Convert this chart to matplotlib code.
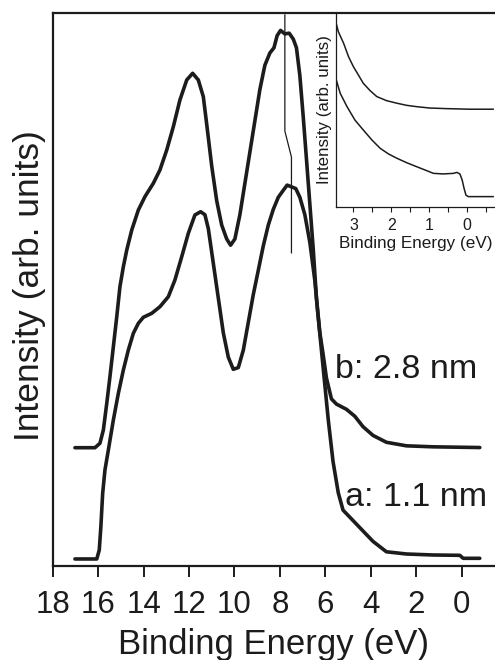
import matplotlib
matplotlib.use("Agg")
import matplotlib.pyplot as plt

plt.rcParams['font.family'] = ['Liberation Sans', 'DejaVu Sans']

# ---- main spectra (binding energy eV, intensity arb. units) ----
a_energy = [17.02, 16.06, 15.95, 15.88, 15.80, 15.70, 15.55, 15.33, 15.11, 14.89,
            14.67, 14.45, 14.23, 14.01, 13.64, 13.28, 12.91, 12.62, 12.32, 12.03,
            11.74, 11.49, 11.30, 11.15, 10.93, 10.71, 10.49, 10.27, 10.05, 9.83,
            9.61, 9.39, 9.17, 8.95, 8.73, 8.51, 8.29, 8.07, 7.85, 7.68,
            7.49, 7.30, 7.12, 6.90, 6.68, 6.46, 6.32, 6.17, 6.02, 5.87,
            5.66, 5.43, 5.22, 4.78, 4.34, 3.90, 3.31, 2.43, 1.26, 0.08,
            -0.07, -0.80]
a_intensity = [1.27, 1.27, 2.89, 7.10, 13.14, 17.35, 20.97, 26.39, 31.21, 35.42,
               39.04, 42.06, 43.86, 44.95, 45.67, 46.86, 48.67, 51.69, 55.90, 60.13,
               63.44, 64.03, 63.49, 60.98, 54.71, 48.42, 42.15, 37.74, 35.55, 35.86,
               39.00, 44.03, 49.05, 53.44, 57.85, 61.61, 64.45, 66.64, 67.90, 68.84,
               68.53, 68.21, 66.64, 63.49, 58.47, 51.56, 45.27, 39.00, 32.71, 26.44,
               18.89, 13.25, 10.10, 8.22, 6.33, 4.45, 2.57, 2.17, 1.99, 1.93,
               1.39, 1.39]

b_energy = [17.02, 16.14, 15.92, 15.77, 15.62, 15.48, 15.33, 15.18, 15.04, 14.89,
            14.74, 14.52, 14.23, 13.94, 13.57, 13.28, 12.98, 12.69, 12.40, 12.10,
            11.84, 11.59, 11.37, 11.22, 11.00, 10.78, 10.56, 10.34, 10.17, 9.98,
            9.76, 9.54, 9.32, 9.10, 8.88, 8.66, 8.44, 8.26, 8.12, 7.97,
            7.78, 7.59, 7.41, 7.27, 7.12, 6.97, 6.83, 6.68, 6.53, 6.39,
            6.24, 6.10, 5.95, 5.73, 5.51, 5.07, 4.70, 4.34, 3.90, 3.31,
            2.43, 1.26, -0.80]
b_intensity = [21.38, 21.38, 22.18, 24.58, 29.41, 34.21, 39.63, 45.06, 50.48, 54.09,
               57.11, 60.73, 64.34, 66.75, 69.17, 71.57, 75.19, 79.40, 84.22, 87.84,
               89.05, 87.84, 84.82, 79.83, 72.29, 66.00, 61.61, 59.10, 57.98, 59.10,
               63.49, 69.15, 74.81, 80.46, 86.12, 90.51, 92.72, 93.66, 95.86, 96.80,
               96.17, 96.30, 95.23, 93.66, 88.63, 81.10, 73.56, 65.39, 57.22, 48.42,
               42.15, 38.37, 33.98, 30.20, 29.26, 28.32, 27.06, 25.18, 23.60, 22.36,
               21.72, 21.54, 21.41]

# peak-position marker line
marker_energy = [7.78, 7.78, 7.49, 7.49]
marker_intensity = [99.6, 78.6, 73.9, 56.6]

# ---- inset: valence band edge region ----
ib_energy = [3.48, 3.40, 3.26, 3.13, 3.00, 2.87, 2.74, 2.56, 2.38, 2.12,
             1.85, 1.59, 1.32, 0.97, 0.53, -0.09, -0.70]
ib_intensity = [96.2, 90.2, 84.2, 77.3, 72.1, 67.9, 63.6, 59.8, 56.7, 54.6,
                53.3, 52.2, 51.5, 50.8, 50.5, 50.2, 50.2]
ia_energy = [3.48, 3.35, 3.17, 2.96, 2.74, 2.51, 2.29, 2.07, 1.85, 1.59,
             1.32, 1.06, 0.88, 0.62, 0.35, 0.26, 0.18, 0.12, 0.07, 0.02,
             -0.04, -0.70]
ia_intensity = [67.0, 58.4, 51.5, 44.6, 39.5, 34.3, 30.0, 27.1, 24.9, 22.6,
                20.5, 18.5, 17.1, 16.8, 17.1, 17.6, 16.8, 13.7, 9.4, 5.9,
                5.1, 5.1]

main_ticks = [18, 16, 14, 12, 10, 8, 6, 4, 2, 0]
inset_ticks = [3, 2, 1, 0]
inset_minor = [2.5, 1.5, 0.5, -0.5]

W, H = 495, 660
fig = plt.figure(figsize=(W / 100, H / 100), dpi=100)

ink = '#1c1c1c'
ax = fig.add_axes([52.7 / W, 1 - 566 / H, (W - 52.7) / W, (566 - 12.7) / H])
ax.plot(a_energy, a_intensity, color=ink, lw=2.6, solid_joinstyle='round',
        solid_capstyle='round')
ax.plot(b_energy, b_intensity, color=ink, lw=2.6, solid_joinstyle='round',
        solid_capstyle='round')
ax.plot(marker_energy, marker_intensity, color=ink, lw=0.9)
ax.set_xlim(18, -1.47)
ax.set_ylim(0, 100)
ax.set_xticks(main_ticks)
ax.set_yticks([])
ax.spines['right'].set_visible(False)
for s in ['left', 'bottom', 'top']:
    ax.spines[s].set_linewidth(1.6)
    ax.spines[s].set_color(ink)
ax.tick_params(axis='x', direction='out', length=8, width=1.4, pad=9,
               labelsize=22.5, colors=ink)
ax.set_xlabel('Binding Energy (eV)', fontsize=25, labelpad=6, color=ink)
ax.set_ylabel('Intensity (arb. units)', fontsize=25.5, color=ink)
ax.yaxis.set_label_coords(-0.016, 0.507)

ax.text(5.58, 33.9, 'b: 2.8 nm', fontsize=24.5, ha='left', va='baseline', color=ink)
ax.text(5.14, 10.9, 'a: 1.1 nm', fontsize=24.5, ha='left', va='baseline', color=ink)

# inset
ins = fig.add_axes([335.7 / W, 1 - 206.5 / H, (W - 335.7) / W, (206.5 - 12.7) / H])
ins.patch.set_alpha(0)
ins.plot(ib_energy, ib_intensity, color=ink, lw=1.1)
ins.plot(ia_energy, ia_intensity, color=ink, lw=1.1)
ins.set_xlim(3.47, -0.75)
ins.set_ylim(0, 100)
ins.set_xticks(inset_ticks)
ins.set_xticks(inset_minor, minor=True)
ins.set_yticks([])
ins.spines['top'].set_visible(False)
ins.spines['right'].set_visible(False)
for s in ['left', 'bottom']:
    ins.spines[s].set_linewidth(0.9)
    ins.spines[s].set_color(ink)
ins.tick_params(axis='x', which='both', direction='out', length=3.5, width=0.8,
                pad=5, labelsize=11.5, colors=ink)
ins.set_xlabel('Binding Energy (eV)', fontsize=12.3, labelpad=2, color=ink)
ins.set_ylabel('Intensity (arb. units)', fontsize=12.2, labelpad=3, color=ink)

fig.savefig('out.png', dpi=100)
